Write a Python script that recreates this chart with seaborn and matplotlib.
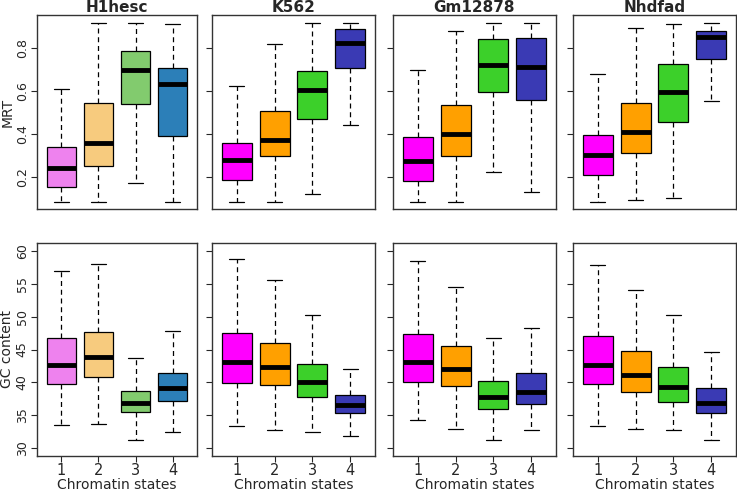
import numpy as np
import pandas as pd
import matplotlib
matplotlib.use("Agg")
import matplotlib.pyplot as plt
import seaborn as sns

cell_lines = ["H1hesc", "K562", "Gm12878", "Nhdfad"]
states = ["1", "2", "3", "4"]

# five-number summaries per chromatin state: min, q1, median, q3, max
mrt_h1hesc = [[0.086, 0.158, 0.242, 0.342, 0.611],
              [0.086, 0.254, 0.359, 0.543, 0.912],
              [0.172, 0.540, 0.697, 0.786, 0.912],
              [0.086, 0.392, 0.631, 0.705, 0.909]]
mrt_k562 = [[0.086, 0.186, 0.280, 0.361, 0.623],
            [0.086, 0.297, 0.374, 0.505, 0.817],
            [0.125, 0.469, 0.605, 0.694, 0.914],
            [0.442, 0.708, 0.822, 0.885, 0.914]]
mrt_gm12878 = [[0.086, 0.182, 0.277, 0.388, 0.696],
               [0.086, 0.300, 0.400, 0.535, 0.878],
               [0.225, 0.594, 0.719, 0.839, 0.912],
               [0.131, 0.560, 0.709, 0.846, 0.912]]
mrt_nhdfad = [[0.086, 0.212, 0.305, 0.397, 0.679],
              [0.097, 0.315, 0.411, 0.546, 0.892],
              [0.105, 0.457, 0.594, 0.725, 0.909],
              [0.554, 0.746, 0.849, 0.877, 0.915]]

gc_h1hesc = [[33.5, 39.7, 42.6, 46.7, 57.0],
             [33.6, 40.8, 43.9, 47.7, 58.0],
             [31.3, 35.5, 36.9, 38.7, 43.7],
             [32.5, 37.2, 39.2, 41.5, 47.8]]
gc_k562 = [[33.4, 39.9, 43.1, 47.5, 58.7],
           [32.7, 39.6, 42.4, 46.0, 55.6],
           [32.5, 37.7, 40.0, 42.8, 50.2],
           [31.9, 35.4, 36.6, 38.1, 42.0]]
gc_gm12878 = [[34.3, 40.1, 43.1, 47.4, 58.4],
              [32.9, 39.4, 42.0, 45.5, 54.5],
              [31.3, 35.9, 37.7, 40.2, 46.7],
              [32.7, 36.7, 38.5, 41.4, 48.3]]
gc_nhdfad = [[33.3, 39.7, 42.7, 47.0, 57.8],
             [32.9, 38.5, 41.1, 44.7, 54.0],
             [32.7, 37.0, 39.3, 42.4, 50.3],
             [31.3, 35.4, 36.9, 39.2, 44.6]]

mrt_data = [mrt_h1hesc, mrt_k562, mrt_gm12878, mrt_nhdfad]
gc_data = [gc_h1hesc, gc_k562, gc_gm12878, gc_nhdfad]

light_colors = ["#EE82EE", "#F7CB7E", "#82CB6E", "#2C7FB8"]
bright_colors = ["#FF00FF", "#FFA000", "#3CD02A", "#3A3AB4"]

sns.set_style("ticks")
plt.rcParams["font.family"] = ["DejaVu Sans"]

W, H = 737, 493
fig = plt.figure(figsize=(W / 100, H / 100), dpi=100)

lefts = [37, 212, 393, 573]
rights = [197, 375, 556, 736]
rows = [(15, 209), (243, 456)]


def draw_panel(ax, summary, colors):
    df = pd.DataFrame({"state": np.repeat(states, 5),
                       "value": np.concatenate(summary)})
    sns.boxplot(data=df, x="state", y="value", hue="state", order=states,
                hue_order=states, palette=colors, legend=False, ax=ax,
                whis=(0, 100), width=0.8, saturation=1, linecolor="black",
                linewidth=0.9, fliersize=0,
                medianprops={"linewidth": 3.5, "color": "black",
                             "solid_capstyle": "butt"},
                whiskerprops={"linestyle": (0, (4, 3)), "linewidth": 0.9},
                capprops={"linewidth": 0.9})
    ax.set_xlim(-0.66, 3.66)
    for s in ax.spines.values():
        s.set_visible(True)
        s.set_linewidth(1.0)
        s.set_color("#333333")
    ax.tick_params(axis="y", labelrotation=90, length=4, width=0.8,
                   labelsize=9, pad=2)
    ax.set_xlabel("")
    ax.set_ylabel("")


for c in range(4):
    for r in range(2):
        top, bot = rows[r]
        ax = fig.add_axes([lefts[c] / W, 1 - bot / H,
                           (rights[c] - lefts[c]) / W, (bot - top) / H])
        colors = light_colors if c == 0 else bright_colors
        if r == 0:
            draw_panel(ax, mrt_data[c], colors)
            ax.set_ylim(0.054, 0.951)
            ax.set_yticks([0.2, 0.4, 0.6, 0.8])
            ax.set_xticks([])
            ax.set_title(cell_lines[c], fontsize=11, fontweight="bold",
                         pad=1)
            if c == 0:
                ax.set_ylabel("MRT", fontsize=10, labelpad=1)
        else:
            draw_panel(ax, gc_data[c], colors)
            ax.set_ylim(28.8, 61.2)
            ax.set_yticks([30, 35, 40, 45, 50, 55, 60])
            ax.tick_params(axis="x", length=4, width=0.8, labelsize=10.5, pad=1)
            ax.set_xlabel("Chromatin states", fontsize=10, labelpad=0)
            if c == 0:
                ax.set_ylabel("GC content", fontsize=10, labelpad=1)
        if c > 0:
            ax.set_yticklabels([])
        else:
            for lab in ax.get_yticklabels():
                lab.set_va("center")

fig.savefig("out.png", dpi=100)
